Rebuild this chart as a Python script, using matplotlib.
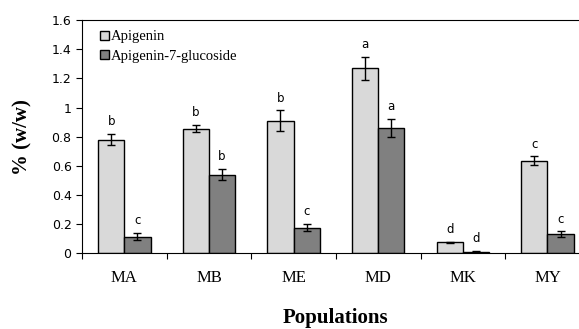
import numpy as np
import matplotlib.pyplot as plt

populations = ["MA", "MB", "ME", "MD", "MK", "MY"]
apigenin = [0.78, 0.855, 0.91, 1.27, 0.075, 0.635]
apigenin_err = [0.04, 0.025, 0.07, 0.08, 0.006, 0.03]
glucoside = [0.115, 0.54, 0.175, 0.86, 0.01, 0.13]
glucoside_err = [0.025, 0.04, 0.025, 0.06, 0.004, 0.02]
apigenin_letters = ["b", "b", "b", "a", "d", "c"]
glucoside_letters = ["c", "b", "c", "a", "d", "c"]

fig = plt.figure(figsize=(5.79, 3.29), dpi=100)
ax = fig.add_axes([0.1416, 0.230, 0.877, 0.709])

x = np.arange(len(populations))
w = 0.31
ekw = dict(elinewidth=1, capsize=3, capthick=1, ecolor="black")
ax.bar(x - w / 2, apigenin, w, yerr=apigenin_err, color="#d9d9d9",
       edgecolor="black", linewidth=1, label="Apigenin", error_kw=ekw)
ax.bar(x + w / 2, glucoside, w, yerr=glucoside_err, color="#808080",
       edgecolor="black", linewidth=1, label="Apigenin-7-glucoside", error_kw=ekw)

for i in range(len(populations)):
    ax.text(x[i] - w / 2, apigenin[i] + apigenin_err[i] + 0.04, apigenin_letters[i],
            ha="center", va="bottom", fontsize=8.5, family="DejaVu Sans")
    ax.text(x[i] + w / 2, glucoside[i] + glucoside_err[i] + 0.04, glucoside_letters[i],
            ha="center", va="bottom", fontsize=8.5, family="DejaVu Sans")

ax.set_xlim(-0.5, len(populations) - 0.5)
ax.set_ylim(0, 1.6)
yt = np.arange(0, 1.61, 0.2)
ax.set_yticks(yt)
ax.set_yticklabels([f"{v:g}" for v in yt], fontsize=9, family="DejaVu Sans")

ax.set_xticks(np.arange(-0.5, len(populations), 1))
ax.set_xticklabels([])
ax.set_xticks(x, minor=True)
ax.set_xticklabels(populations, minor=True, fontsize=12, family="Liberation Serif")
ax.tick_params(axis="x", which="minor", length=0, pad=12)
ax.tick_params(axis="x", which="major", direction="out", length=4)
ax.tick_params(axis="y", direction="out", length=4)

ax.spines["right"].set_visible(False)

ax.set_ylabel("% (w/w)", fontsize=15, fontweight="bold", family="Liberation Serif", labelpad=14)
ax.set_xlabel("Populations", fontsize=15, fontweight="bold", family="Liberation Serif", labelpad=16)

ax.legend(loc="upper left", frameon=False, prop={"family": "Liberation Serif", "size": 10.5},
          handlelength=0.6, handleheight=0.6, handletextpad=0.15, labelspacing=0.45,
          borderaxespad=0.3, bbox_to_anchor=(0.015, 1.0))

fig.savefig("out.png", dpi=100)
